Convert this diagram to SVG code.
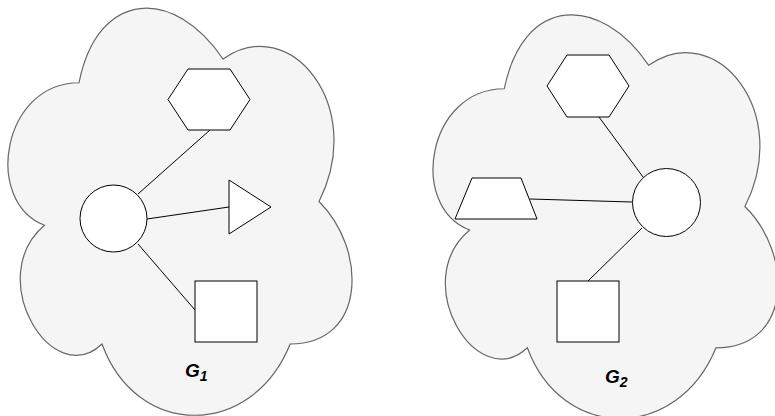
<svg xmlns="http://www.w3.org/2000/svg" width="775" height="416" viewBox="0 0 775 416">
<style>
.cloud{fill:#f5f5f5;stroke:#666666;stroke-width:1.2}
.shape{fill:#ffffff;stroke:#000000;stroke-width:1}
.edge{fill:none;stroke:#000000;stroke-width:1}
.lbl{font-family:"Liberation Sans",Arial,sans-serif;font-weight:bold;font-style:italic;fill:#000000;font-size:19px}
.sub{font-size:14px}
</style>
<rect width="775" height="416" fill="#ffffff"/>
<g id="cloud1">
<path class="cloud" d="M 79 82.75 C 2.2 82.75 -17 201.5 44.44 225.25 C -17 277.5 52.12 391.5 102.04 344 C 136.6 439 251.8 439 290.2 344 C 367 344 367 249 319 201.5 C 367 106.5 290.2 11.5 223 59 C 175 -12.25 98.2 -12.25 79 82.75 Z"/>
</g>
<g id="cloud2">
<path class="cloud" d="M 504.25 88.75 C 427.25 88.75 408 206.5 469.6 230.05 C 408 281.86 477.3 394.9 527.35 347.8 C 562 442 677.5 442 716 347.8 C 793 347.8 793 253.6 744.9 206.5 C 793 112.3 716 18.1 648.6 65.2 C 600.5 -5.45 523.5 -5.45 504.25 88.75 Z"/>
</g>
<g id="connectors">
<line class="edge" x1="210" y1="130" x2="138" y2="194"/>
<line class="edge" x1="147" y1="219" x2="229" y2="207"/>
<line class="edge" x1="138" y1="244" x2="195" y2="310"/>
<line class="edge" x1="599" y1="117" x2="643" y2="177"/>
<line class="edge" x1="530" y1="199" x2="632" y2="202"/>
<line class="edge" x1="642" y1="228" x2="588" y2="281"/>
</g>
<g id="g1-hexagon"><polygon class="shape" points="168,99.5 188,69 230,69 250,99.5 230,130 188,130"/></g>
<g id="g1-circle"><circle class="shape" cx="113.5" cy="218.5" r="33.5"/></g>
<g id="g1-triangle"><polygon class="shape" points="229,180 271,207 229,234"/></g>
<g id="g1-square"><rect class="shape" x="195" y="281" width="62" height="61"/></g>
<g id="g1-label"><text class="lbl" x="185" y="377">G<tspan class="sub" dy="3.5">1</tspan></text></g>
<g id="g2-hexagon"><polygon class="shape" points="547,86 567,55 609,55 629,86 609,117 567,117"/></g>
<g id="g2-circle"><circle class="shape" cx="666.5" cy="202.5" r="34"/></g>
<g id="g2-trapezoid"><polygon class="shape" points="472,178 521,178 537,219 455,219"/></g>
<g id="g2-square"><rect class="shape" x="557" y="281" width="62" height="61"/></g>
<g id="g2-label"><text class="lbl" x="605" y="383">G<tspan class="sub" dy="3.5">2</tspan></text></g>
</svg>
